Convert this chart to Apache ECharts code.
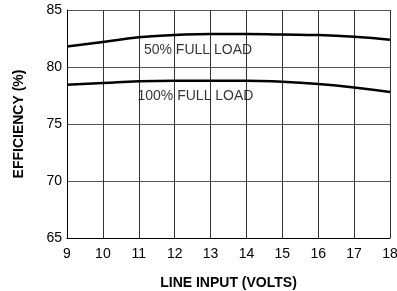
<!DOCTYPE html>
<html><head><meta charset="utf-8">
<script src="https://cdn.jsdelivr.net/npm/echarts@6/dist/echarts.min.js"></script>
<style>html,body{margin:0;padding:0;background:#fff}#c{width:397px;height:291px}</style>
</head><body><div id="c"></div>
<script>
const xVals = [9, 10, 11, 12, 13, 14, 15, 16, 17, 18];
const load50 = [81.8, 82.2, 82.6, 82.8, 82.9, 82.9, 82.85, 82.8, 82.65, 82.4];
const load100 = [78.45, 78.6, 78.75, 78.8, 78.8, 78.8, 78.7, 78.5, 78.2, 77.8];
const label50 = '50% FULL LOAD';
const label100 = '100% FULL LOAD';
const label50Pos = [12.65, 81.45];
const label100Pos = [12.58, 77.45];
const xTitle = 'LINE INPUT (VOLTS)';
const yTitle = 'EFFICIENCY (%)';

const font = 'Liberation Sans, Arial, sans-serif';
const chart = echarts.init(document.getElementById('c'));
function pts(arr){ return xVals.map((x,i)=>[x,arr[i]]); }
chart.setOption({
  animation:false,
  grid:{left:67, right:7, top:10, bottom:53, containLabel:false, outerBoundsMode:'none'},
  xAxis:{type:'value', min:9, max:18, interval:1,
    name:xTitle, nameLocation:'middle', nameGap:38,
    nameTextStyle:{fontWeight:'bold', fontSize:14, color:'#000', fontFamily:font},
    axisLine:{show:true, lineStyle:{color:'#000', width:1}},
    axisTick:{show:false},
    axisLabel:{color:'#000', fontSize:14, fontFamily:font, margin:9},
    splitLine:{show:true, lineStyle:{color:'#333', width:1}}},
  yAxis:{type:'value', min:65, max:85, interval:5,
    name:yTitle, nameLocation:'middle', nameGap:41, nameRotate:90,
    nameTextStyle:{fontWeight:'bold', fontSize:14, color:'#000', fontFamily:font},
    axisLine:{show:true, lineStyle:{color:'#000', width:1}},
    axisTick:{show:false},
    axisLabel:{color:'#000', fontSize:14, fontFamily:font, margin:5},
    splitLine:{show:true, lineStyle:{color:'#555', width:1}}},
  series:[
    {type:'line', data:pts(load50), smooth:true, symbol:'none', lineStyle:{color:'#000', width:2.5}},
    {type:'line', data:pts(load100), smooth:true, symbol:'none', lineStyle:{color:'#000', width:2.5}},
    {type:'scatter', symbolSize:1, itemStyle:{color:'rgba(0,0,0,0)'}, silent:true,
      data:[{value:label50Pos, name:label50},{value:label100Pos, name:label100}],
      label:{show:true, position:'inside', formatter:p=>p.name, color:'#000', fontSize:14, fontFamily:font}}
  ]
});
</script>
</body></html>
